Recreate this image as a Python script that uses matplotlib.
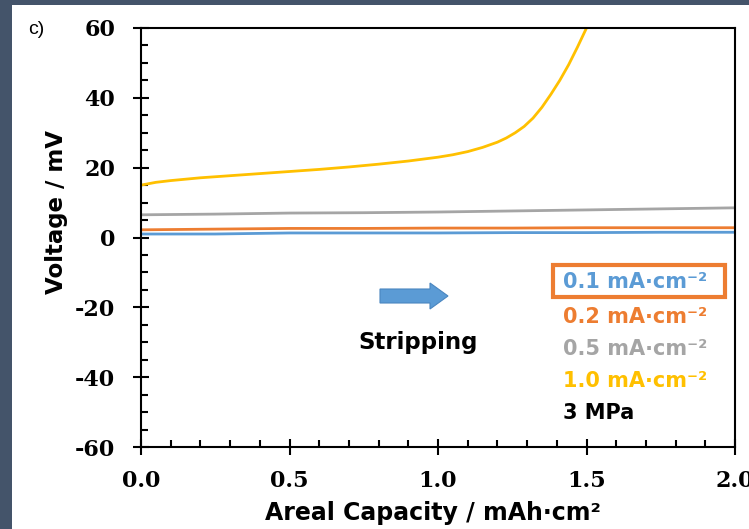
import numpy as np
import matplotlib.pyplot as plt
from matplotlib.patches import Rectangle, FancyArrow
from matplotlib.ticker import MultipleLocator

plt.rcParams['axes.unicode_minus'] = False

# data
cap_flat = [0.0, 0.25, 0.5, 0.75, 1.0, 1.25, 1.5, 1.75, 2.0]
v_01 = [1.0, 1.0, 1.3, 1.3, 1.3, 1.4, 1.4, 1.5, 1.5]
v_02 = [2.2, 2.4, 2.6, 2.6, 2.7, 2.7, 2.8, 2.8, 2.8]
v_05 = [6.5, 6.7, 7.0, 7.1, 7.3, 7.6, 7.9, 8.2, 8.5]

cap_10 = [0.0, 0.05, 0.1, 0.2, 0.3, 0.4, 0.5, 0.6, 0.7, 0.8, 0.9, 1.0, 1.05, 1.1, 1.15, 1.2,
          1.23, 1.26, 1.29, 1.32, 1.35, 1.38, 1.41, 1.44, 1.47, 1.5]
v_10 = [15.0, 15.8, 16.3, 17.1, 17.7, 18.3, 18.9, 19.5, 20.2, 21.0, 21.9, 23.0, 23.7, 24.6, 25.8, 27.3,
        28.5, 30.0, 31.8, 34.2, 37.3, 41.0, 45.0, 49.5, 54.6, 60.0]

labels = ['0.1 mA·cm⁻²', '0.2 mA·cm⁻²', '0.5 mA·cm⁻²', '1.0 mA·cm⁻²', '3 MPa']
colors = ['#5b9bd5', '#ed7d31', '#a5a5a5', '#ffc000', '#000000']

W, H = 749, 529
fig = plt.figure(figsize=(W / 100, H / 100), dpi=100, facecolor='#44546a')
fig.patches.append(Rectangle((12 / W, 0), 1 - 12 / W, 1 - 5 / H, transform=fig.transFigure,
                             facecolor='white', edgecolor='none', zorder=-10))

ax = fig.add_axes([141 / W, 1 - 447 / H, (735 - 141) / W, (447 - 28) / H])
ax.plot(cap_flat, v_05, color=colors[2], lw=2)
ax.plot(cap_flat, v_02, color=colors[1], lw=2)
ax.plot(cap_flat, v_01, color=colors[0], lw=2)
ax.plot(cap_10, v_10, color=colors[3], lw=2)

ax.set_xlim(0, 2.0)
ax.set_ylim(-60, 60)
ax.xaxis.set_major_locator(MultipleLocator(0.5))
ax.xaxis.set_minor_locator(MultipleLocator(0.1))
ax.yaxis.set_major_locator(MultipleLocator(20))
ax.yaxis.set_minor_locator(MultipleLocator(5))
ax.tick_params(which='major', direction='inout', length=11, width=1.5, top=False, right=False)
ax.tick_params(which='minor', direction='in', length=5, width=1.5, top=False, right=False)
for s in ax.spines.values():
    s.set_linewidth(1.5)

ax.set_xticks([0, 0.5, 1.0, 1.5, 2.0])
ax.set_xticklabels(['0.0', '0.5', '1.0', '1.5', '2.0'])
for t in ax.get_xticklabels() + ax.get_yticklabels():
    t.set_fontfamily('DejaVu Serif')
    t.set_fontweight('bold')
    t.set_fontsize(16)
ax.tick_params(axis='x', pad=11)
ax.tick_params(axis='y', pad=13)

ax.set_xlabel('Areal Capacity / mAh·cm²', fontsize=17, fontweight='bold', family='DejaVu Sans')
ax.set_ylabel('Voltage / mV', fontsize=16.5, fontweight='bold', family='DejaVu Sans')
ax.xaxis.set_label_coords(0.492, -0.128)
ax.yaxis.set_label_coords(-0.123, 0.56)

fig.text(28 / W, 1 - 29 / H, 'c)', fontsize=14, family='Liberation Sans', va='center')

# legend-like text block
ys = [282, 317, 349, 381, 413]
for lab, c, y in zip(labels, colors, ys):
    fig.text(563 / W, 1 - y / H, lab, color=c, fontsize=15, fontweight='bold',
             family='DejaVu Sans', va='center')
fig.patches.append(Rectangle((553 / W, 1 - 297 / H), (725 - 553) / W, (297 - 265) / H,
                             transform=fig.transFigure, facecolor='none',
                             edgecolor='#ed7d31', lw=3, zorder=5))

# stripping arrow
fig.patches.append(FancyArrow(380 / W, 1 - 296 / H, 50 / W, 0, width=14 / H,
                              head_width=26 / H, head_length=18 / W, length_includes_head=False,
                              transform=fig.transFigure, facecolor='#5b9bd5',
                              edgecolor='#4a86c0', lw=0.8))
fig.text(418 / W, 1 - 343 / H, 'Stripping', fontsize=16.5, fontweight='bold',
         family='DejaVu Sans', ha='center', va='center')

fig.savefig('out.png', dpi=100, facecolor=fig.get_facecolor())
